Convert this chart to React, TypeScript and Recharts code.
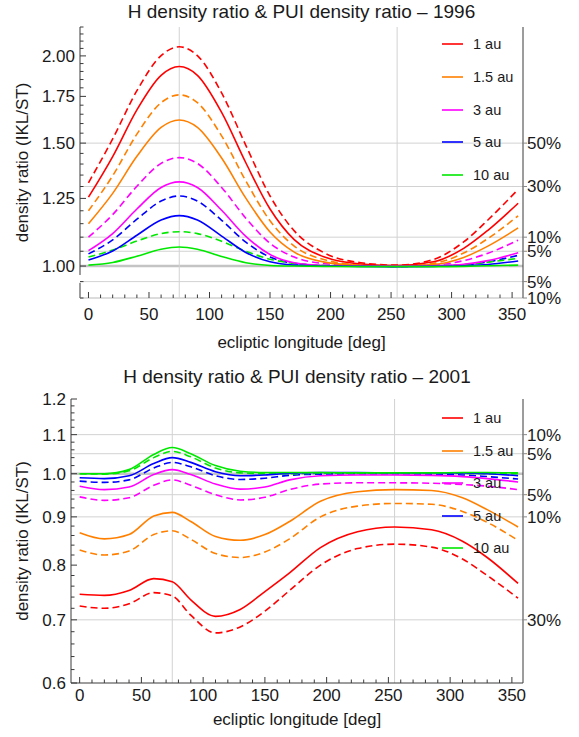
import { LineChart, Line, XAxis, YAxis, ReferenceLine } from "recharts"

// ecliptic longitude samples [deg]
const longitude = [0, 20, 40, 60, 75, 90, 110, 130, 150, 170, 195, 225, 255, 285, 310, 330, 355]

// 1996, solid = H density ratio, dashed = PUI density ratio
const h1996_1au = [1.255, 1.435, 1.674, 1.876, 1.931, 1.876, 1.66, 1.406, 1.207, 1.091, 1.03, 1.007, 1.002, 1.014, 1.06, 1.125, 1.23]
const pui1996_1au = [1.316, 1.521, 1.783, 2.002, 2.061, 2.002, 1.77, 1.489, 1.26, 1.123, 1.044, 1.011, 1.003, 1.022, 1.083, 1.164, 1.288]
const h1996_1p5au = [1.15, 1.271, 1.436, 1.58, 1.619, 1.58, 1.428, 1.251, 1.119, 1.047, 1.013, 1.002, 1.0, 1.005, 1.029, 1.068, 1.134]
const pui1996_1p5au = [1.2, 1.347, 1.545, 1.714, 1.759, 1.714, 1.536, 1.324, 1.161, 1.068, 1.021, 1.004, 1.001, 1.009, 1.044, 1.095, 1.18]
const h1996_3au = [1.052, 1.113, 1.207, 1.296, 1.32, 1.296, 1.202, 1.103, 1.039, 1.011, 1.002, 1.0, 0.999, 1.001, 1.006, 1.018, 1.045]
const pui1996_3au = [1.1, 1.185, 1.301, 1.403, 1.43, 1.403, 1.296, 1.171, 1.078, 1.03, 1.008, 1.001, 1.0, 1.003, 1.018, 1.043, 1.089]
const h1996_5au = [1.02, 1.051, 1.107, 1.164, 1.181, 1.164, 1.104, 1.046, 1.014, 1.003, 1.0, 0.999, 0.998, 0.999, 1.001, 1.005, 1.017]
const pui1996_5au = [1.041, 1.09, 1.167, 1.239, 1.26, 1.239, 1.163, 1.082, 1.03, 1.009, 1.001, 1.0, 0.999, 1.0, 1.004, 1.014, 1.036]
const h1996_10au = [1.003, 1.012, 1.033, 1.057, 1.065, 1.057, 1.032, 1.011, 1.002, 1.0, 0.999, 0.998, 0.998, 0.998, 0.999, 1.001, 1.003]
const pui1996_10au = [1.03, 1.054, 1.086, 1.113, 1.12, 1.113, 1.085, 1.05, 1.023, 1.009, 1.002, 1.0, 0.999, 1.001, 1.005, 1.013, 1.026]

// 2001
const h2001_1au = [0.745, 0.743, 0.752, 0.774, 0.768, 0.735, 0.706, 0.718, 0.75, 0.785, 0.835, 0.868, 0.878, 0.872, 0.848, 0.815, 0.765]
const pui2001_1au = [0.724, 0.72, 0.728, 0.748, 0.742, 0.708, 0.678, 0.688, 0.715, 0.752, 0.8, 0.833, 0.842, 0.836, 0.812, 0.78, 0.738]
const h2001_1p5au = [0.866, 0.853, 0.862, 0.902, 0.91, 0.89, 0.858, 0.85, 0.862, 0.89, 0.935, 0.957, 0.962, 0.96, 0.943, 0.916, 0.878]
const pui2001_1p5au = [0.83, 0.82, 0.828, 0.862, 0.87, 0.852, 0.823, 0.815, 0.826, 0.853, 0.9, 0.924, 0.93, 0.928, 0.912, 0.888, 0.85]
const h2001_3au = [0.97, 0.962, 0.968, 0.998, 1.01, 0.998, 0.975, 0.963, 0.968, 0.985, 0.995, 0.997, 0.997, 0.996, 0.993, 0.988, 0.98]
const pui2001_3au = [0.945, 0.937, 0.943, 0.972, 0.985, 0.972, 0.95, 0.938, 0.944, 0.962, 0.975, 0.978, 0.978, 0.977, 0.974, 0.97, 0.962]
const h2001_5au = [0.99, 0.988, 0.995, 1.025, 1.04, 1.028, 1.005, 0.995, 0.997, 1.001, 1.003, 1.003, 1.002, 1.002, 1.002, 1.0, 0.995]
const pui2001_5au = [0.982, 0.979, 0.985, 1.014, 1.028, 1.017, 0.995, 0.986, 0.989, 0.996, 0.999, 1.0, 1.0, 0.999, 0.997, 0.993, 0.987]
const h2001_10au = [1.0, 1.0, 1.01, 1.048, 1.066, 1.05, 1.02, 1.006, 1.003, 1.003, 1.003, 1.002, 1.002, 1.002, 1.003, 1.003, 1.002]
const pui2001_10au = [1.0, 0.999, 1.007, 1.04, 1.056, 1.042, 1.014, 1.002, 1.0, 1.0, 1.001, 1.001, 1.001, 1.001, 1.001, 1.0, 1.0]

const auLabels = ["1 au", "1.5 au", "3 au", "5 au", "10 au"]
const auColors = ["#ff0000", "#ff8000", "#ff00ff", "#0000ff", "#00e800"]

const yMajor1996 = [1, 1.25, 1.5, 1.75, 2]
const yMajor2001 = [0.6, 0.7, 0.8, 0.9, 1.0, 1.1, 1.2]
const pctTicks1996 = [1.5, 1.3, 1.1, 1.05, 0.95, 0.9]
const pctLabels1996 = ["50%", "30%", "10%", "5%", "5%", "10%"]
const pctTicks2001 = [1.1, 1.05, 0.95, 0.9, 0.7]
const pctLabels2001 = ["10%", "5%", "5%", "10%", "30%"]
const sunLines = [75, 255]

const FONT = "'Liberation Sans', Arial, Helvetica, sans-serif"
const AXIS = "#3a3a3a"
const TEXT = "#1a1a1a"
const GRID = "#d2d2d2"
const X_DOMAIN: [number, number] = [-7, 359]
const Y_MARGIN = 5
const PCT_MARGIN = 4

const steps = (a: number, b: number, s: number) =>
  Array.from({ length: Math.round((b - a) / s) + 1 }, (_, i) => +(a + i * s).toFixed(3))

const xTicks = steps(0, 350, 10)
const near = (a: number, b: number) => Math.abs(a - b) < 1e-6

const makeYTick = (majors: number[], digits: number) => (p: any) => {
  const v = p.payload.value
  const major = majors.some((m) => near(m, v))
  const ax = p.x + Y_MARGIN
  return (
    <g>
      <line x1={ax} x2={ax + (major ? 6 : 3.5)} y1={p.y} y2={p.y} stroke={AXIS} />
      {major && (
        <text x={p.x} y={p.y} dy="0.35em" textAnchor="end" fontSize={17} fill={TEXT} fontFamily={FONT}>
          {v.toFixed(digits)}
        </text>
      )}
    </g>
  )
}

const makeXTick = (margin: number) => (p: any) => {
  const v = p.payload.value
  const major = v % 50 === 0
  const ay = p.y - margin
  return (
    <g>
      <line x1={p.x} x2={p.x} y1={ay} y2={ay - (major ? 6 : 3.5)} stroke={AXIS} />
      {major && (
        <text x={p.x} y={p.y} dy="0.71em" textAnchor="middle" fontSize={17} fill={TEXT} fontFamily={FONT}>
          {v}
        </text>
      )}
    </g>
  )
}

const makePctTick = (ticks: number[], labels: string[]) => (p: any) => {
  const i = ticks.findIndex((t) => near(t, p.payload.value))
  const ax = p.x - PCT_MARGIN
  return (
    <g>
      <line x1={ax} x2={ax + 4} y1={p.y} y2={p.y} stroke="#888" />
      <text x={p.x} y={p.y} dy="0.35em" textAnchor="start" fontSize={17} fill={TEXT} fontFamily={FONT}>
        {labels[i]}
      </text>
    </g>
  )
}

type PanelProps = {
  title: string
  top: number
  height: number
  plotTop: number
  plotLeft: number
  marginBottom: number
  solid: number[][]
  dashed: number[][]
  domain: [number, number]
  majors: number[]
  minorStep: number
  digits: number
  pctTicks: number[]
  pctLabels: string[]
  xTickMargin: number
  xLabelOffset: number
  legendTop: number
  legendGap: number
  titleTop: number
  bottomAxis: string
  axisBreak?: [number, number]
}

function Panel(props: PanelProps) {
  const { solid, dashed, domain } = props
  const rows = longitude.map((lon, i) => {
    const row: Record<string, number> = { lon }
    solid.forEach((s, k) => (row[`s${k}`] = s[i]))
    dashed.forEach((d, k) => (row[`d${k}`] = d[i]))
    return row
  })
  const yTicks = steps(domain[0], domain[1], props.minorStep)

  return (
    <div style={{ position: "absolute", left: 0, top: props.top, width: 579, height: props.height }}>
      <div
        style={{
          position: "absolute",
          left: props.plotLeft,
          width: 523 - props.plotLeft,
          top: props.titleTop,
          textAlign: "center",
          fontFamily: FONT,
          fontSize: 19,
          lineHeight: "22px",
          color: TEXT,
          whiteSpace: "nowrap",
        }}
      >
        {props.title}
      </div>
      <LineChart
        width={579}
        height={props.height}
        data={rows}
        margin={{ top: props.plotTop, right: 0, bottom: props.marginBottom, left: 0 }}
      >
        <XAxis
          dataKey="lon"
          type="number"
          domain={X_DOMAIN}
          ticks={xTicks}
          interval={0}
          allowDataOverflow
          height={30}
          tickSize={0}
          tickLine={false}
          tickMargin={props.xTickMargin}
          tick={makeXTick(props.xTickMargin)}
          axisLine={{ stroke: props.bottomAxis }}
          label={{
            value: "ecliptic longitude [deg]",
            position: "bottom",
            offset: props.xLabelOffset,
            fontSize: 17,
            fill: TEXT,
            fontFamily: FONT,
          }}
        />
        <XAxis
          xAxisId="frame"
          orientation="top"
          dataKey="lon"
          type="number"
          domain={X_DOMAIN}
          height={0}
          tick={false}
          tickLine={false}
          axisLine={{ stroke: AXIS }}
        />
        <YAxis
          type="number"
          scale="log"
          domain={domain}
          allowDataOverflow
          ticks={yTicks}
          interval={0}
          width={props.plotLeft}
          tickSize={0}
          tickLine={false}
          tickMargin={Y_MARGIN}
          tick={makeYTick(props.majors, props.digits)}
          axisLine={props.axisBreak ? false : { stroke: AXIS }}
          label={{
            value: "density ratio (IKL/ST)",
            angle: -90,
            position: "insideLeft",
            offset: 22,
            fontSize: 17,
            fill: TEXT,
            fontFamily: FONT,
            style: { textAnchor: "middle" },
          }}
        />
        <YAxis
          yAxisId="pct"
          orientation="right"
          type="number"
          scale="log"
          domain={domain}
          allowDataOverflow
          ticks={props.pctTicks}
          interval={0}
          width={56}
          tickSize={0}
          tickLine={false}
          tickMargin={PCT_MARGIN}
          tick={makePctTick(props.pctTicks, props.pctLabels)}
          axisLine={{ stroke: AXIS }}
        />
        {props.pctTicks.map((v) => (
          <ReferenceLine key={`h${v}`} y={v} stroke={GRID} strokeWidth={1} />
        ))}
        <ReferenceLine y={1} stroke="#c4c4c4" strokeWidth={2.5} />
        {sunLines.map((v) => (
          <ReferenceLine key={`v${v}`} x={v} stroke={GRID} strokeWidth={1} />
        ))}
        {props.axisBreak && (
          <ReferenceLine
            segment={[
              { x: X_DOMAIN[0], y: props.axisBreak[1] },
              { x: X_DOMAIN[0], y: domain[1] },
            ]}
            stroke={AXIS}
            ifOverflow="visible"
          />
        )}
        {props.axisBreak && (
          <ReferenceLine
            segment={[
              { x: X_DOMAIN[0], y: domain[0] },
              { x: X_DOMAIN[0], y: props.axisBreak[0] },
            ]}
            stroke={AXIS}
            ifOverflow="visible"
          />
        )}
        {auColors.map((c, k) => (
          <Line
            key={`d${k}`}
            dataKey={`d${k}`}
            type="monotone"
            stroke={c}
            strokeWidth={1.6}
            strokeDasharray="7 4"
            dot={false}
            isAnimationActive={false}
          />
        ))}
        {auColors.map((c, k) => (
          <Line
            key={`s${k}`}
            dataKey={`s${k}`}
            type="monotone"
            stroke={c}
            strokeWidth={1.6}
            dot={false}
            isAnimationActive={false}
          />
        ))}
      </LineChart>
      {auLabels.map((label, i) => (
        <div
          key={label}
          style={{
            position: "absolute",
            left: 442,
            top: props.legendTop + i * props.legendGap - 10,
            height: 20,
            display: "flex",
            alignItems: "center",
            fontFamily: FONT,
            fontSize: 14.5,
            color: TEXT,
          }}
        >
          <svg width={21} height={4}>
            <line x1={0} x2={21} y1={2} y2={2} stroke={auColors[i]} strokeWidth={1.6} />
          </svg>
          <span style={{ marginLeft: 10 }}>{label}</span>
        </div>
      ))}
    </div>
  )
}

export default function App() {
  return (
    <div style={{ position: "absolute", left: 0, top: 0, width: 579, height: 737, background: "#fff" }}>
      <Panel
        title="H density ratio & PUI density ratio – 1996"
        top={0}
        height={370}
        plotTop={27}
        plotLeft={80}
        marginBottom={42}
        solid={[h1996_1au, h1996_1p5au, h1996_3au, h1996_5au, h1996_10au]}
        dashed={[pui1996_1au, pui1996_1p5au, pui1996_3au, pui1996_5au, pui1996_10au]}
        domain={[0.9, 2.2]}
        majors={yMajor1996}
        minorStep={0.05}
        digits={2}
        pctTicks={pctTicks1996}
        pctLabels={pctLabels1996}
        xTickMargin={10}
        xLabelOffset={8}
        legendTop={44}
        legendGap={32.75}
        titleTop={1}
        bottomAxis="#cfcfcf"
        axisBreak={[0.946, 0.971]}
      />
      <Panel
        title="H density ratio & PUI density ratio – 2001"
        top={370}
        height={367}
        plotTop={29}
        plotLeft={71}
        marginBottom={24}
        solid={[h2001_1au, h2001_1p5au, h2001_3au, h2001_5au, h2001_10au]}
        dashed={[pui2001_1au, pui2001_1p5au, pui2001_3au, pui2001_5au, pui2001_10au]}
        domain={[0.6, 1.2]}
        majors={yMajor2001}
        minorStep={0.02}
        digits={1}
        pctTicks={pctTicks2001}
        pctLabels={pctLabels2001}
        xTickMargin={6}
        xLabelOffset={0}
        legendTop={48}
        legendGap={32.5}
        titleTop={-4}
        bottomAxis={AXIS}
      />
    </div>
  )
}
